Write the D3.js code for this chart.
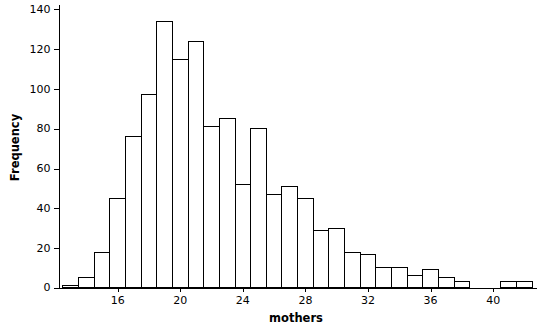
<!DOCTYPE html>
<html><head><meta charset="utf-8">
<script src="https://cdn.jsdelivr.net/npm/d3@7"></script>
<style>
body{margin:0;background:#fff;}
text{font-family:"DejaVu Sans",Verdana,sans-serif;}
</style></head>
<body><svg id="c" width="537" height="328"></svg>
<script>
const binStarts = [12.5,13.5,14.5,15.5,16.5,17.5,18.5,19.5,20.5,21.5,22.5,23.5,24.5,25.5,26.5,27.5,28.5,29.5,30.5,31.5,32.5,33.5,34.5,35.5,36.5,37.5,38.5,39.5,40.5,41.5];
const counts = [1,5,18,45,76,97,134,115,124,81,85,52,80,47,51,45,29,30,18,17,10,10,6,9,5,3,0,0,3,3];
const binWidth = 1;
const xTicks = [16,20,24,28,32,36,40];
const yTicks = [0,20,40,60,80,100,120,140];
const xLabel = "mothers";
const yLabel = "Frequency";

const svg = d3.select("#c");
const x = d3.scaleLinear().domain([12.215, 42.77]).range([58, 536]);
const y = d3.scaleLinear().domain([0, 142.5]).range([287.3, 4]);

const g = svg.append("g").attr("shape-rendering","crispEdges");
g.selectAll("rect.bar").data(counts.map((c,i)=>({x0:binStarts[i],c})))
  .enter().filter(d=>d.c>0).append("rect")
  .attr("x", d=>Math.round(x(d.x0))+0.5)
  .attr("y", d=>Math.round(y(d.c))+0.5)
  .attr("width", d=>Math.round(x(d.x0+binWidth))-Math.round(x(d.x0)))
  .attr("height", d=>Math.round(y(0))-Math.round(y(d.c)))
  .attr("fill","#fff").attr("stroke","#000").attr("stroke-width",1);

const ya = svg.append("g").attr("transform","translate(58.5,0)")
  .call(d3.axisLeft(y).tickValues(yTicks).tickSize(5).tickPadding(3).tickSizeOuter(0));
const xa = svg.append("g").attr("transform",`translate(0,${Math.round(y(0))+0.5})`)
  .call(d3.axisBottom(x).tickValues(xTicks).tickSize(4).tickPadding(5).tickSizeOuter(0));
[ya,xa].forEach(a=>{
  a.attr("shape-rendering","crispEdges");
  a.selectAll("path,line").attr("stroke","#000");
  a.selectAll("text").attr("font-size","11px").attr("fill","#000").attr("font-family","DejaVu Sans");
});
ya.selectAll(".tick line").attr("transform","translate(0,0.5)");
xa.selectAll(".tick line").attr("transform","translate(0.5,0)");

svg.append("text").attr("x",296).attr("y",321.5).attr("text-anchor","middle")
  .attr("font-size","11.5px").attr("font-weight","bold").text(xLabel);
svg.append("text").attr("transform","translate(18.5,147.5) rotate(-90)").attr("text-anchor","middle")
  .attr("font-size","11.5px").attr("font-weight","bold").text(yLabel);
</script></body></html>
